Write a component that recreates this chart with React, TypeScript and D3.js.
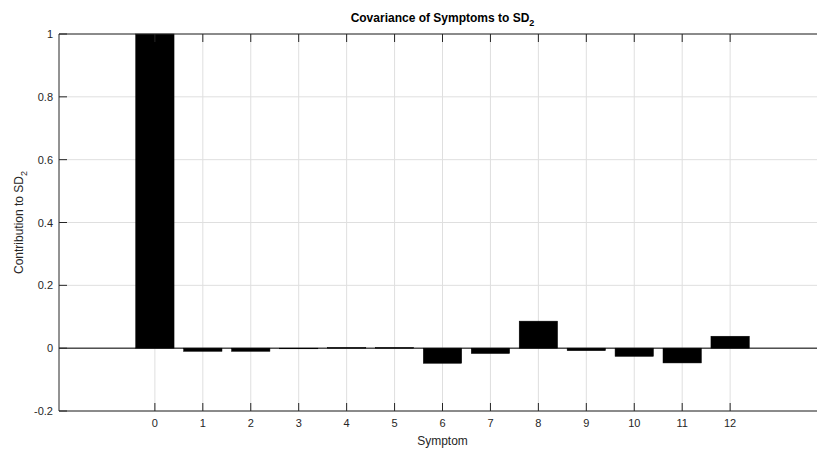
import React from "react";
import * as d3 from "d3";

const symptoms = [0, 1, 2, 3, 4, 5, 6, 7, 8, 9, 10, 11, 12];
const contribution = [1.0, -0.01, -0.01, -0.002, 0.002, 0.002, -0.048, -0.017, 0.086, -0.008, -0.026, -0.047, 0.038];
const yTicks = [-0.2, 0, 0.2, 0.4, 0.6, 0.8, 1];
const yTickLabels = ["-0.2", "0", "0.2", "0.4", "0.6", "0.8", "1"];

export default function App() {
  const width = 817;
  const height = 450;
  const left = 59, right = 826, top = 34, bottom = 411;
  const axisColor = "#262626";
  const gridColor = "#dfdfdf";
  const font = "'Liberation Sans', Arial, Helvetica, sans-serif";

  const x = d3.scaleLinear().domain([-2, 14]).range([left, right]);
  const y = d3.scaleLinear().domain([-0.2, 1]).range([bottom, top]);
  const barW = (x(1) - x(0)) * 0.8;
  const tickLen = 8;

  return (
    <svg width={width} height={height} style={{ position: "absolute", left: 0, top: 0, background: "#fff" }}>
      <rect x={0} y={0} width={width} height={height} fill="#fff" />
      {/* grid */}
      {symptoms.map(s => (
        <line key={"gx" + s} x1={x(s)} x2={x(s)} y1={top} y2={bottom} stroke={gridColor} strokeWidth={1} />
      ))}
      {yTicks.map(t => (
        <line key={"gy" + t} x1={left} x2={right} y1={y(t)} y2={y(t)} stroke={gridColor} strokeWidth={1} />
      ))}
      {/* bars */}
      {symptoms.map((s, i) => {
        const v = contribution[i];
        const y0 = y(Math.max(0, v));
        const h = Math.abs(y(v) - y(0));
        return <rect key={"b" + s} x={x(s) - barW / 2} y={y0} width={barW} height={Math.max(h, 0.5)} fill="#000" stroke="#000" strokeWidth={0.5} />;
      })}
      {/* baseline */}
      <line x1={left} x2={right} y1={y(0)} y2={y(0)} stroke="#000" strokeWidth={1} />
      {/* axes box */}
      <line x1={left} x2={right} y1={bottom} y2={bottom} stroke={axisColor} strokeWidth={1} />
      <line x1={left} x2={right} y1={top} y2={top} stroke={axisColor} strokeWidth={1} />
      <line x1={left} x2={left} y1={top} y2={bottom} stroke={axisColor} strokeWidth={1} />
      {/* x ticks */}
      {symptoms.map(s => (
        <g key={"xt" + s}>
          <line x1={x(s)} x2={x(s)} y1={bottom} y2={bottom - tickLen} stroke={axisColor} />
          <line x1={x(s)} x2={x(s)} y1={top} y2={top + tickLen} stroke={axisColor} />
          <text x={x(s)} y={bottom + 16} textAnchor="middle" fontFamily={font} fontSize={11} fill={axisColor}>{s}</text>
        </g>
      ))}
      {/* y ticks */}
      {yTicks.map((t, i) => (
        <g key={"yt" + t}>
          <line x1={left} x2={left + tickLen} y1={y(t)} y2={y(t)} stroke={axisColor} />
          <text x={left - 6} y={y(t) + 4} textAnchor="end" fontFamily={font} fontSize={11} fill={axisColor}>{yTickLabels[i]}</text>
        </g>
      ))}
      {/* labels */}
      <text x={(left + right) / 2} y={445} textAnchor="middle" fontFamily={font} fontSize={12} fill={axisColor}>Symptom</text>
      <text transform={`translate(23,${(top + bottom) / 2}) rotate(-90)`} textAnchor="middle" fontFamily={font} fontSize={12} fill={axisColor}>
        Contribution to SD<tspan dy={4} fontSize={9}>2</tspan>
      </text>
      <text x={(left + right) / 2} y={22} textAnchor="middle" fontFamily={font} fontSize={12} fontWeight="bold" fill="#000">
        Covariance of Symptoms to SD<tspan dy={4} fontSize={9}>2</tspan>
      </text>
    </svg>
  );
}
